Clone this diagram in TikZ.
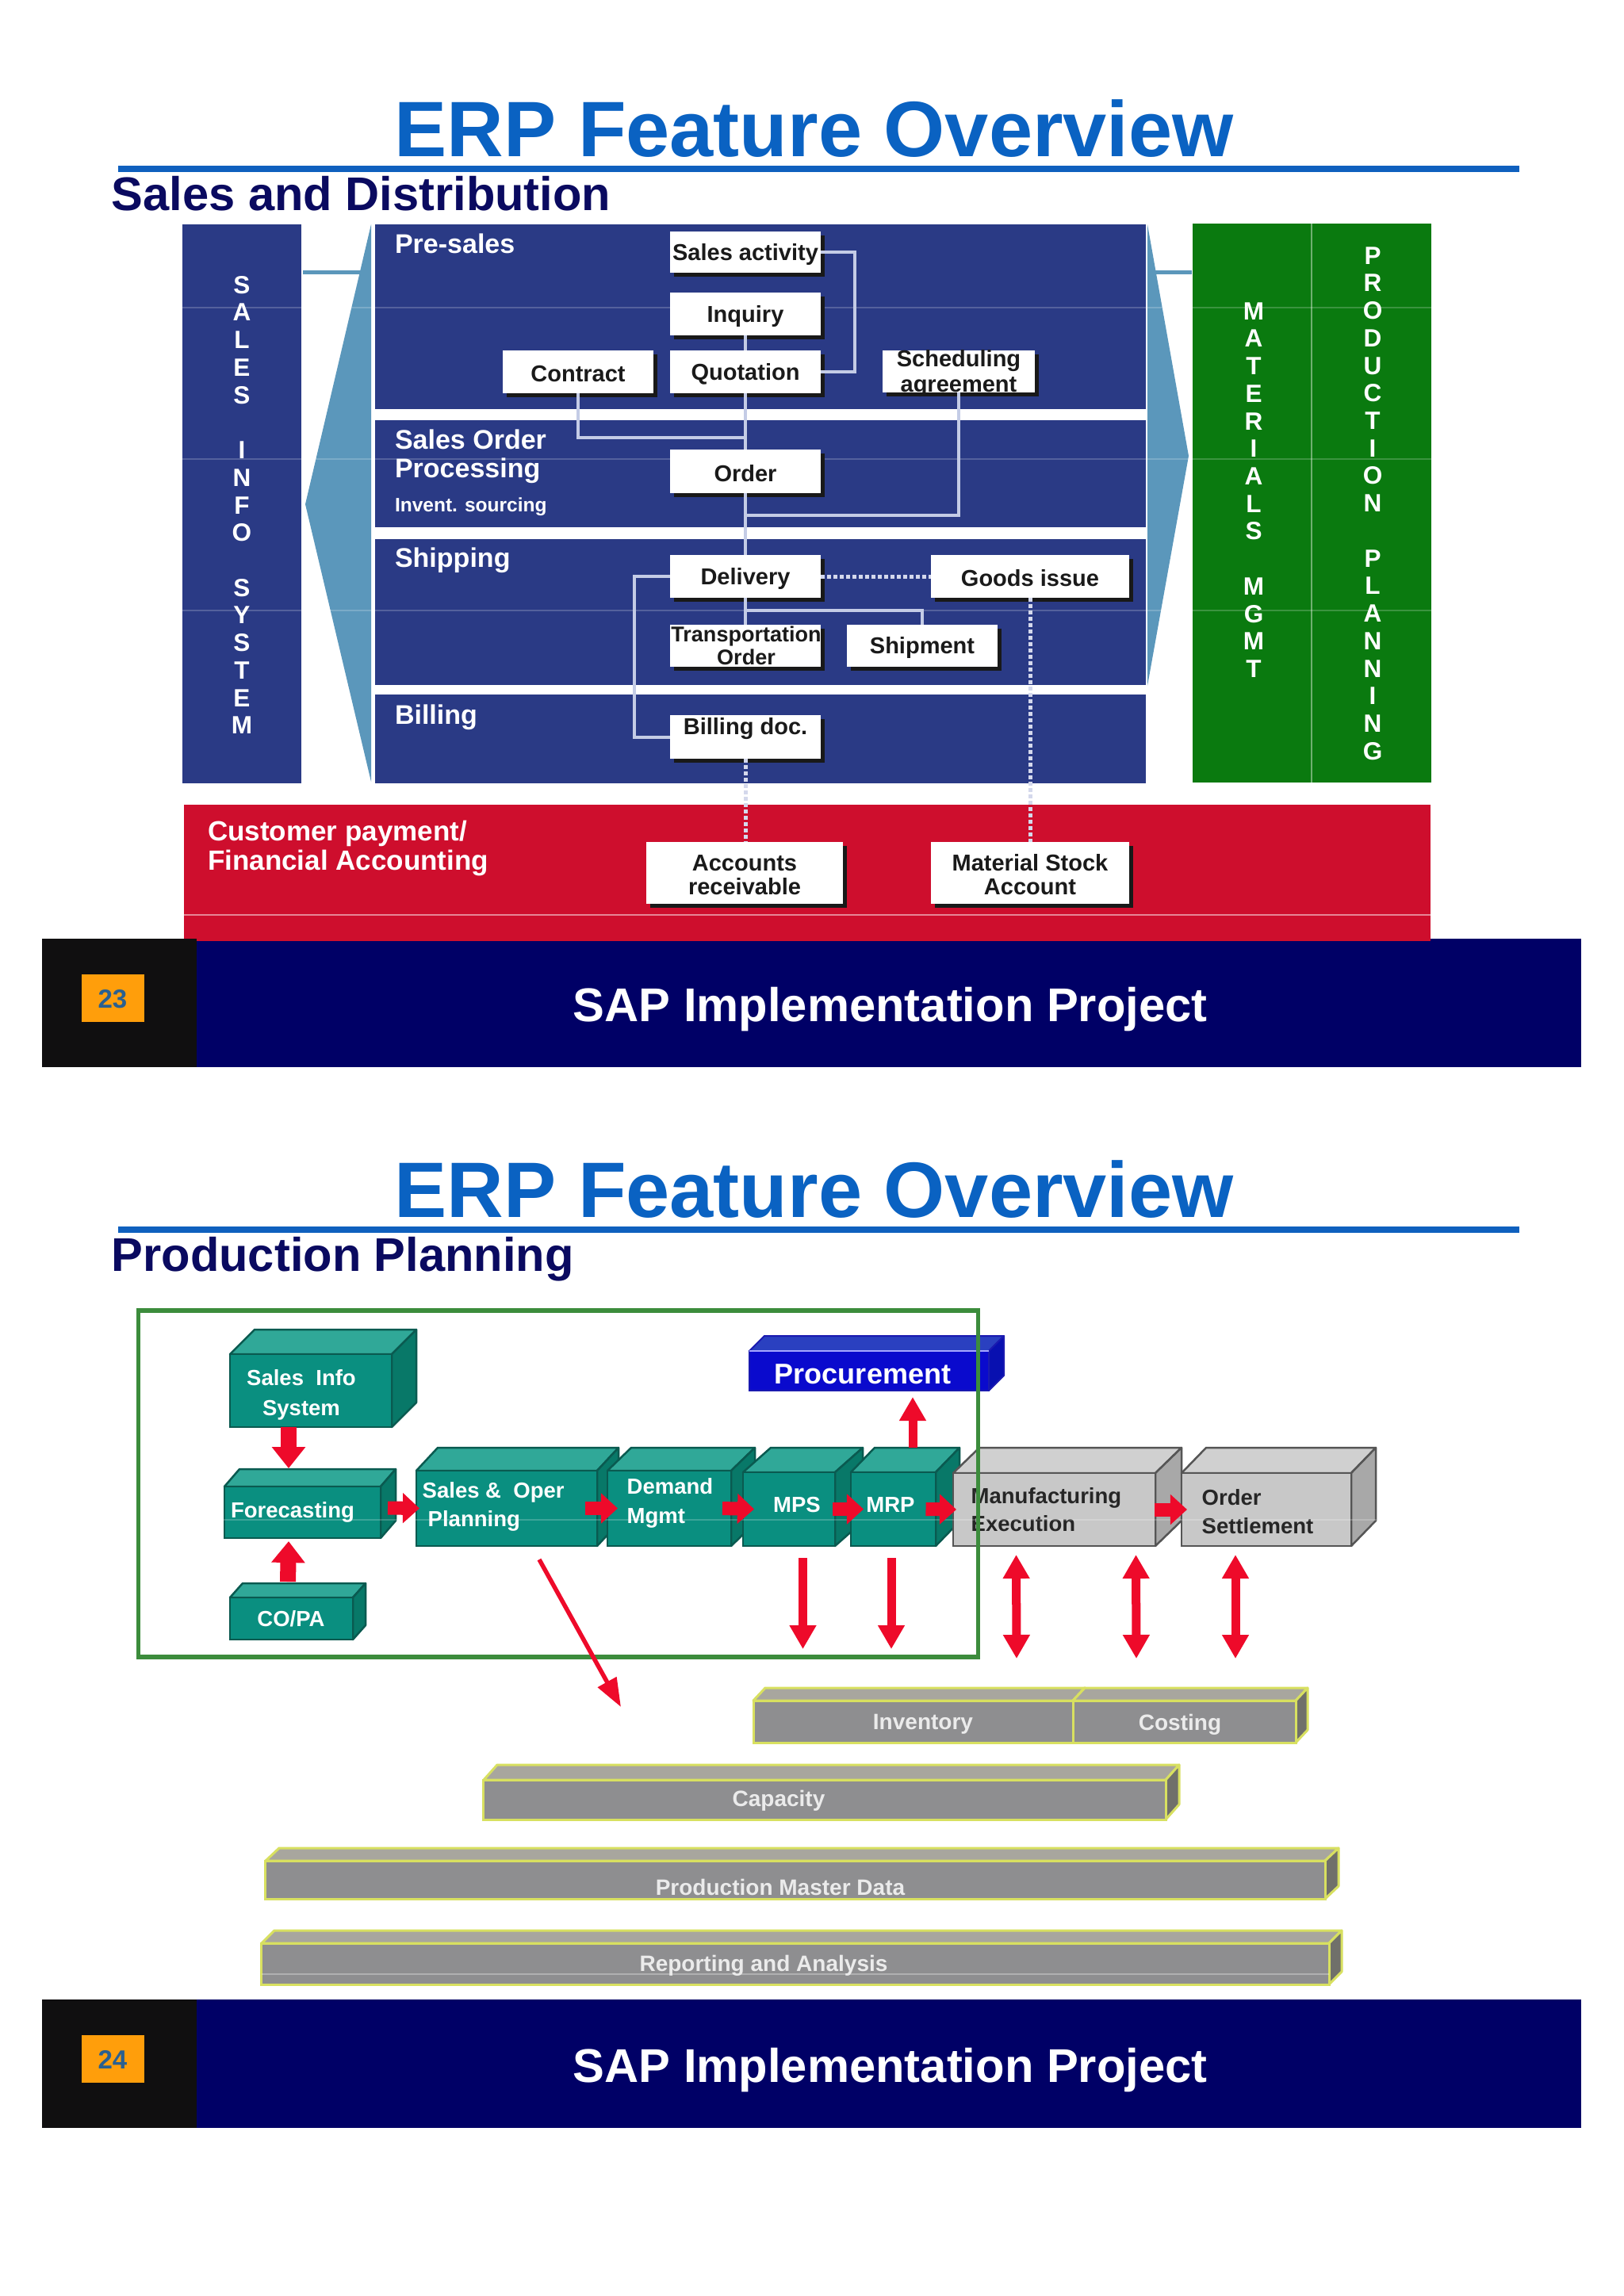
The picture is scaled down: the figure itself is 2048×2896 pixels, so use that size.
\documentclass[tikz,border=0pt]{standalone}
\usepackage{fontspec}
\setmainfont{Liberation Sans}
\usetikzlibrary{arrows.meta,calc}
\definecolor{erpblue}{HTML}{0A62C2}
\definecolor{rulecol}{HTML}{0F60BE}
\definecolor{subnavy}{HTML}{0A0A60}
\definecolor{panel}{HTML}{2A3A85}
\definecolor{funnel}{HTML}{5B97BB}
\definecolor{colgreen}{HTML}{0A7A0F}
\definecolor{colline}{HTML}{6FB070}
\definecolor{payred}{HTML}{CE0E2D}
\definecolor{footnavy}{HTML}{000066}
\definecolor{footblack}{HTML}{100F10}
\definecolor{pageor}{HTML}{FF9E0B}
\definecolor{pagenum}{HTML}{2A6090}
\definecolor{conn}{HTML}{C4CCE6}
\definecolor{dotc}{HTML}{D4D8EC}
\definecolor{boxtxt}{HTML}{1A1A1A}
\definecolor{tealfront}{HTML}{0A8F80}
\definecolor{tealtop}{HTML}{30A898}
\definecolor{tealside}{HTML}{087868}
\definecolor{tealline}{HTML}{0A5A50}
\definecolor{greyfront}{HTML}{C8C8C8}
\definecolor{greytop}{HTML}{D0D0D0}
\definecolor{greyside}{HTML}{A8A8A8}
\definecolor{greyline}{HTML}{555555}
\definecolor{procfront}{HTML}{0A0ACD}
\definecolor{proctop}{HTML}{2A40C0}
\definecolor{procside}{HTML}{0810B0}
\definecolor{procline}{HTML}{1A1AB0}
\definecolor{barfront}{HTML}{8E8E90}
\definecolor{bartop}{HTML}{A8A69E}
\definecolor{barside}{HTML}{70706A}
\definecolor{barline}{HTML}{D8E060}
\definecolor{arrowred}{HTML}{EE0A2A}
\definecolor{framegreen}{HTML}{3C8C3C}
% font of #1 px with leading #2 px (1 px = 0.01 cm)
\newcommand\pxfl[2]{\pgfmathsetmacro\tmpfa{#1*0.28453}\pgfmathsetmacro\tmpfb{#2*0.28453}\fontsize{\tmpfa pt}{\tmpfb pt}\selectfont}
\tikzset{
  x=0.01cm,y=-0.01cm,
  lbl/.style={inner sep=0pt,outer sep=0pt,anchor=base west,text=white,font=\bfseries\pxfl{34}{36}},
  title/.style={inner sep=0pt,anchor=base west,text=erpblue,font=\bfseries\pxfl{99.1}{100}},
  subtitle/.style={inner sep=0pt,anchor=base west,text=subnavy,font=\bfseries\pxfl{59.6}{60}},
  foot/.style={inner sep=0pt,anchor=base west,text=white,font=\bfseries\pxfl{59.7}{60}},
  vert/.style={inner sep=0pt,align=center,text=white,font=\bfseries\pxfl{31.5}{34.7}},
  boxt/.style={inner sep=0pt,align=center,text=boxtxt,font=\bfseries\pxfl{29}{#1}},
  boxt/.default=30,
  cubet/.style={inner sep=0pt,align=center,text=white,font=\bfseries\pxfl{27.5}{#1}},
  cubet/.default=37,
  cubel/.style={inner sep=0pt,align=left,anchor=west,text=white,font=\bfseries\pxfl{27.5}{#1}},
  bart/.style={inner sep=0pt,text=white!92!black,font=\bfseries\pxfl{28}{30}},
  conline/.style={draw=conn,line width=0.04cm},
  condot/.style={draw=dotc,line width=0.05cm,dash pattern=on 0.05cm off 0.03cm},
  artifact/.style={draw=white,opacity=.2,line width=0.015cm},
  redarrow/.style={draw=arrowred,line width=0.11cm,-{Triangle[length=0.3cm,width=0.32cm]}},
  reddouble/.style={draw=arrowred,line width=0.11cm,{Triangle[length=0.3cm,width=0.32cm]}-{Triangle[length=0.3cm,width=0.32cm]}},
  redblock/.style={draw=arrowred,line width=0.17cm,-{Triangle[length=0.21cm,width=0.37cm]}},
  redfat/.style={draw=arrowred,line width=0.2cm,-{Triangle[length=0.27cm,width=0.41cm]}},
  redthin/.style={draw=arrowred,line width=0.055cm,-{Triangle[length=0.36cm,width=0.26cm]}},
}
% empty white box with hard shadow: name,x0,y0,x1,y1
\newcommand\wboxe[5]{%
  \fill[black!90] ({#2+5},{#3+5}) rectangle ({#4+5},{#5+5});
  \pgfmathsetmacro\bw{(#4-#2)*0.01}\pgfmathsetmacro\bh{(#5-#3)*0.01}
  \node[fill=white,inner sep=0pt,outer sep=0pt,minimum width=\bw cm,minimum height=\bh cm] (#1) at ({(#2+#4)/2},{(#3+#5)/2}) {};
}
% white box with its text: [text],name,x0,y0,x1,y1
\newcommand\wbox[6][]{%
  \wboxe{#2}{#3}{#4}{#5}{#6}
  \node[boxt] (#2t) at ($(#2.center)+(0,2.5)$) {#1};
}
% cuboid: name,x0,y0,x1,y1,dx,dy,family,line width
\newcommand\cuboid[9]{%
  \filldraw[fill=#8top,draw=#8line,line width=#9,line join=round] (#2,#3) -- ({#2+#6},{#3-#7}) -- ({#4+#6},{#3-#7}) -- (#4,#3) -- cycle;
  \filldraw[fill=#8side,draw=#8line,line width=#9,line join=round] (#4,#3) -- ({#4+#6},{#3-#7}) -- ({#4+#6},{#5-#7}) -- (#4,#5) -- cycle;
  \pgfmathsetmacro\bw{(#4-#2)*0.01}\pgfmathsetmacro\bh{(#5-#3)*0.01}
  \node[fill=#8front,draw=#8line,line width=#9,inner sep=0pt,outer sep=0pt,minimum width=\bw cm,minimum height=\bh cm] (#1) at ({(#2+#4)/2},{(#3+#5)/2}) {};
}
\begin{document}
\begin{tikzpicture}
\useasboundingbox (0,0) rectangle (2048,2896);
\fill[white] (0,0) rectangle (2048,2896);

% ===== Slide 23 =====
\node[title] (t1) at (497,197) {ERP Feature Overview};
\fill[rulecol] (149,209) rectangle (1916,217);
\node[subtitle] (st1) at (140,265) {Sales and Distribution};

\fill[panel] (230,283) rectangle (380,988);
\fill[funnel] (468,283) -- (385,636) -- (468,986) -- cycle;
\fill[funnel] (382,340.5) rectangle (468,345.5);
\fill[funnel] (1447,283) -- (1499,575) -- (1447,865) -- cycle;
\fill[funnel] (1447,340.5) rectangle (1503,345.5);
\fill[panel] (473,283) rectangle (1445,516);
\fill[panel] (473,530) rectangle (1445,665);
\fill[panel] (473,680) rectangle (1445,864);
\fill[panel] (473,876) rectangle (1445,988);
\fill[colgreen] (1504,282) rectangle (1805,987);
\draw[colline,line width=0.02cm] (1654,282) -- (1654,987);
\fill[payred] (232,1015) rectangle (1804,1187);
\draw[white,opacity=.5,line width=0.02cm] (232,1154) -- (1804,1154);
\foreach \yy in {388,579,770} \draw[artifact] (230,\yy) -- (1805,\yy);

\node[vert] (v1) at (305,637) {S\\A\\L\\E\\S\\~\\I\\N\\F\\O\\~\\S\\Y\\S\\T\\E\\M};
\node[vert] (v2) at (1581,618) {M\\A\\T\\E\\R\\I\\A\\L\\S\\~\\M\\G\\M\\T};
\node[vert] (v3) at (1731,635) {P\\R\\O\\D\\U\\C\\T\\I\\O\\N\\~\\P\\L\\A\\N\\N\\I\\N\\G};

\node[lbl] (l1) at (498,319) {Pre-sales};
\node[lbl,align=left,anchor=north west] (l2) at (498,542) {Sales Order\\Processing};
\node[lbl,font=\bfseries\pxfl{24.5}{28}] (l3) at (498,645) {Invent. sourcing};
\node[lbl] (l4) at (498,715) {Shipping};
\node[lbl] (l5) at (498,913) {Billing};
\node[lbl,align=left,anchor=north west,font=\bfseries\pxfl{35}{37}] (l6) at (262,1035) {Customer payment/\\Financial Accounting};

\wbox[Sales activity]{sact}{845}{292}{1035}{344}
\wbox[Inquiry]{inq}{845}{369}{1035}{423}
\wbox[Quotation]{quot}{845}{442}{1035}{496}
\wbox[Contract]{contr}{634}{442}{824}{496}
\wboxe{sched}{1113}{442}{1305}{495}
\node[boxt=32] (schedt) at ($(sched.center)+(0,3)$) {Scheduling\\agreement};
\wbox[Order]{ord}{845}{567}{1035}{622}
\wbox[Delivery]{del}{845}{700}{1035}{754}
\wbox[Goods issue]{goods}{1174}{700}{1424}{754}
\wboxe{trans}{845}{788}{1035}{841}
\node[boxt,font=\bfseries\pxfl{27}{24}] (transt) at ($(trans.center)+(1,0)$) {Transportation\\Order};
\wbox[Shipment]{ship}{1068}{788}{1258}{841}
\wboxe{bill}{845}{902}{1035}{957}
\node[boxt] (billt) at ($(bill.center)+(0,-10)$) {Billing doc.};
\wbox[Accounts\\receivable]{acc}{815}{1062}{1063}{1140}
\wbox[Material Stock\\Account]{mat}{1174}{1062}{1424}{1140}

\draw[conline] (sact.east) -- ++(43,0) |- (quot.east);
\draw[conline] (inq.south) -- (quot.north);
\draw[conline] (quot.south) -- (ord.north);
\draw[conline] (contr.south) |- ($(ord.north)+(0,-15)$);
\draw[conline] (sched.south) |- ($(ord.south)+(0,28)$);
\draw[conline] (ord.south) -- (del.north);
\draw[conline] (del.south) -- (trans.north);
\draw[conline] ($(del.south)+(0,16)$) -| (ship.north);
\draw[conline] (del.west) -- ++(-45,0) |- (bill.west);
\draw[condot] (del.east) -- (goods.west);
\draw[condot] (goods.south) -- (mat.north);
\draw[condot] (bill.south) -- (bill.south |- acc.north);

% footer 23
\fill[footnavy] (53,1187) rectangle (1994,1346);
\fill[footnavy] (1804,1184) rectangle (1994,1187);
\fill[footblack] (53,1184) rectangle (248,1346);
\fill[pageor] (103,1229) rectangle (182,1289);
\node[inner sep=0pt,text=pagenum,font=\bfseries\pxfl{33}{36}] (p1) at (142,1260) {23};
\node[foot] (f1) at (722,1288) {SAP Implementation Project};

% ===== Slide 24 =====
\node[title] (t2) at (497,1535) {ERP Feature Overview};
\fill[rulecol] (149,1547) rectangle (1916,1555);
\node[subtitle] (st2) at (140,1603) {Production Planning};

% bars
\cuboid{inv}{950}{2145}{1353}{2198}{15}{16}{bar}{0.03cm}
\cuboid{cost}{1353}{2145}{1634}{2198}{15}{16}{bar}{0.03cm}
\cuboid{cap}{610}{2245}{1470}{2295}{17}{19}{bar}{0.03cm}
\cuboid{pmd}{335}{2347}{1671}{2395}{17}{16}{bar}{0.03cm}
\cuboid{rep}{330}{2451}{1676}{2503}{16}{16}{bar}{0.03cm}
\draw[white,opacity=.3,line width=0.02cm] (330,2490) -- (1676,2490);
\node[bart] (tinv) at (1164,2175) {Inventory};
\node[bart] (tcost) at (1488,2175) {Costing};
\node[bart] (tcap) at (982,2271) {Capacity};
\node[bart] (tpmd) at (984,2380) {Production Master Data};
\node[bart] (trep) at (963,2479) {Reporting and Analysis};

% cuboids
\cuboid{proc}{945}{1704}{1247}{1754}{19}{19}{proc}{0.02cm}
\draw[white!65!blue,line width=0.02cm] (945,1704) -- (1247,1704);
\node[inner sep=0pt,text=white,font=\bfseries\pxfl{36}{38}] (tproc) at (1088,1733) {Procurement};
\cuboid{sis}{290}{1708}{494}{1800}{31}{31}{teal}{0.025cm}
\node[cubet=38] (tsis) at (380,1759) {Sales~~Info\\System};
\cuboid{fc}{283}{1875}{480}{1940}{19}{22}{teal}{0.025cm}
\node[cubet] (tfc) at (369,1907) {Forecasting};
\cuboid{copa}{290}{2015}{445}{2068}{16}{18}{teal}{0.025cm}
\node[cubet] (tcopa) at (367,2042) {CO/PA};
\cuboid{sop}{525}{1855}{753}{1950}{27}{29}{teal}{0.025cm}
\node[cubel=36] (tsop) at (532,1900) {Sales \&~~Oper\\\hspace*{0.07cm}Planning};
\cuboid{dem}{766}{1855}{922}{1950}{30}{29}{teal}{0.025cm}
\node[cubel=37] (tdem) at (790,1896) {Demand\\Mgmt};
\cuboid{mps}{937}{1857}{1053}{1950}{35}{31}{teal}{0.025cm}
\node[cubet] (tmps) at (1005,1898) {MPS};
\cuboid{mrp}{1073}{1857}{1180}{1950}{30}{31}{teal}{0.025cm}
\node[cubet] (tmrp) at (1123,1898) {MRP};
\cuboid{manu}{1202}{1858}{1457}{1950}{33}{32}{grey}{0.025cm}
\node[cubel=35,text=black!85] (tmanu) at (1224,1904) {Manufacturing\\Execution};
\cuboid{ord2}{1490}{1858}{1704}{1950}{31}{32}{grey}{0.025cm}
\node[cubel=36,text=black!85] (tord2) at (1515,1907) {Order\\Settlement};
\draw[artifact] (150,1917) -- (1736,1917);

% green frame
\node[draw=framegreen,line width=0.055cm,inner sep=0pt,outer sep=0pt,minimum width=10.58cm,minimum height=4.37cm] (frame) at (704,1871.5) {};

% red arrows
\draw[redfat] ($(sis.south)+(-28,0)$) -- ($(fc.north)+(-17.5,-23)$);
\draw[redfat] ($(copa.north)+(-4.5,-20)$) -- ($(fc.south)+(-17.5,4)$);
\draw[redblock] ($(fc.east)+(9,-5.5)$) -- ($(sop.west)+(4,0)$);
\draw[redblock] ($(sop.east)+(-15,0)$) -- ($(dem.west)+(13,0)$);
\draw[redblock] ($(dem.east)+(-11,0)$) -- ($(mps.west)+(14,0)$);
\draw[redblock] ($(mps.east)+(-3,0)$) -- ($(mrp.west)+(16,0)$);
\draw[redblock] ($(mrp.east)+(-12.5,0)$) -- ($(manu.west)+(4,0)$);
\draw[redblock] ($(manu.east)+(-1,0)$) -- ($(ord2.west)+(7,0)$);
\draw[redarrow] ($(mrp.north)+(24.5,-31)$) -- ($(proc.south)+(55,8)$);
\draw[redarrow] ($(mps.south)+(17.5,15)$) -- ($(inv.north)+(-139,-65)$);
\draw[redarrow] ($(mrp.south)+(-2.5,15)$) -- ($(inv.north)+(-27.5,-65)$);
\draw[reddouble] ($(manu.south)+(-48,11)$) -- ($(inv.north)+(130.5,-53)$);
\draw[reddouble] ($(manu.south)+(103,11)$) -- ($(cost.north)+(-60.5,-53)$);
\draw[reddouble] ($(ord2.south)+(-39,11)$) -- ($(cost.north)+(64.5,-53)$);
\draw[redthin] ($(sop.south)+(41,17)$) -- ($(cap.north)+(-257,-92)$);

% footer 24
\fill[footnavy] (53,2522) rectangle (1994,2684);
\fill[footblack] (53,2522) rectangle (248,2684);
\fill[pageor] (103,2567) rectangle (182,2627);
\node[inner sep=0pt,text=pagenum,font=\bfseries\pxfl{33}{36}] (p2) at (142,2598) {24};
\node[foot] (f2) at (722,2626) {SAP Implementation Project};
\end{tikzpicture}
\end{document}
